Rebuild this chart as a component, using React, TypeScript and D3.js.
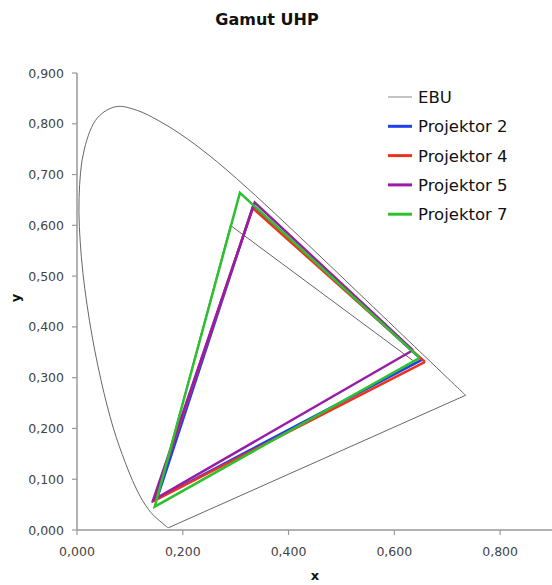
import * as d3 from 'd3'

const W = 552, H = 585
const FONT = '"DejaVu Sans", Verdana, sans-serif'

// CIE 1931 spectral locus (380..700 nm, 5 nm steps)
const locusX = [
  0.1741, 0.1740, 0.1738, 0.1736, 0.1733, 0.1730, 0.1726, 0.1721, 0.1714, 0.1703,
  0.1689, 0.1669, 0.1644, 0.1611, 0.1566, 0.1510, 0.1440, 0.1355, 0.1241, 0.1096,
  0.0913, 0.0687, 0.0454, 0.0235, 0.0082, 0.0039, 0.0139, 0.0389, 0.0743, 0.1142,
  0.1547, 0.1929, 0.2296, 0.2658, 0.3016, 0.3373, 0.3731, 0.4087, 0.4441, 0.4788,
  0.5125, 0.5448, 0.5752, 0.6029, 0.6270, 0.6482, 0.6658, 0.6801, 0.6915, 0.7006,
  0.7079, 0.7140, 0.7190, 0.7230, 0.7260, 0.7283, 0.7300, 0.7311, 0.7320, 0.7327,
  0.7334, 0.7340, 0.7344, 0.7346, 0.7347,
]
const locusY = [
  0.0050, 0.0050, 0.0049, 0.0049, 0.0048, 0.0048, 0.0048, 0.0048, 0.0051, 0.0058,
  0.0069, 0.0086, 0.0109, 0.0138, 0.0177, 0.0227, 0.0297, 0.0399, 0.0578, 0.0868,
  0.1327, 0.2007, 0.2950, 0.4127, 0.5384, 0.6548, 0.7502, 0.8120, 0.8338, 0.8262,
  0.8059, 0.7816, 0.7543, 0.7243, 0.6923, 0.6589, 0.6245, 0.5896, 0.5547, 0.5202,
  0.4866, 0.4544, 0.4242, 0.3965, 0.3725, 0.3514, 0.3340, 0.3197, 0.3083, 0.2993,
  0.2920, 0.2859, 0.2809, 0.2770, 0.2740, 0.2717, 0.2700, 0.2689, 0.2680, 0.2673,
  0.2666, 0.2660, 0.2656, 0.2654, 0.2653,
]

// triangles: red, green, blue primaries
const seriesNames = ['EBU', 'Projektor 2', 'Projektor 4', 'Projektor 5', 'Projektor 7']
const ebuX = [0.64, 0.29, 0.15]
const ebuY = [0.33, 0.60, 0.06]
const p2X = [0.652, 0.333, 0.151]
const p2Y = [0.335, 0.638, 0.061]
const p4X = [0.658, 0.332, 0.145]
const p4Y = [0.331, 0.634, 0.057]
const p5X = [0.635, 0.336, 0.144]
const p5Y = [0.354, 0.645, 0.059]
const p7X = [0.648, 0.308, 0.147]
const p7Y = [0.339, 0.664, 0.046]

const xTicks = [0, 0.2, 0.4, 0.6, 0.8]
const yTicks = [0, 0.1, 0.2, 0.3, 0.4, 0.5, 0.6, 0.7, 0.8, 0.9]

const series = [
  { name: seriesNames[0], xs: ebuX, ys: ebuY, color: '#666', legendColor: '#b0b0b0', width: 1 },
  { name: seriesNames[1], xs: p2X, ys: p2Y, color: '#1f3ff0', legendColor: '#1f3ff0', width: 2.5 },
  { name: seriesNames[2], xs: p4X, ys: p4Y, color: '#f2301e', legendColor: '#f2301e', width: 2.5 },
  { name: seriesNames[3], xs: p5X, ys: p5Y, color: '#9a1ca6', legendColor: '#9a1ca6', width: 2.5 },
  { name: seriesNames[4], xs: p7X, ys: p7Y, color: '#2ec02e', legendColor: '#2ec02e', width: 2.5 },
]

const fmt = (v: number) => v.toFixed(3).replace('.', ',')

export default function App() {
  const x = d3.scaleLinear().domain([0, 0.9]).range([77, 553])
  const y = d3.scaleLinear().domain([0, 0.9]).range([530, 73])
  const line = d3.line<[number, number]>().x(d => x(d[0])).y(d => y(d[1]))
  const smooth = d3.line<[number, number]>().x(d => x(d[0])).y(d => y(d[1])).curve(d3.curveCatmullRom.alpha(0.5))

  const locusPts: [number, number][] = locusX.map((v, i) => [v, locusY[i]])
  const purpleLine: [number, number][] = [locusPts[locusPts.length - 1], locusPts[0]]

  return (
    <svg width={W} height={H} style={{ position: 'absolute', left: 0, top: 0, background: '#fff' }}
      fontFamily={FONT}>
      <text x={267} y={25} textAnchor="middle" fontWeight="bold" fontSize={16} fill="#111">Gamut UHP</text>

      {/* axes */}
      <line x1={x(0)} x2={x(0.9)} y1={y(0)} y2={y(0)} stroke="#999" strokeWidth={1.5} />
      <line x1={x(0)} x2={x(0)} y1={y(0)} y2={y(0.9)} stroke="#999" strokeWidth={1.5} />
      {xTicks.map(t => (
        <g key={'x' + t}>
          <line x1={x(t)} x2={x(t)} y1={y(0)} y2={y(0) + 5} stroke="#999" strokeWidth={1.2} />
          <text x={x(t)} y={y(0) + 26} textAnchor="middle" fontSize={12.5} fill="#444">{fmt(t)}</text>
        </g>
      ))}
      {yTicks.map(t => (
        <g key={'y' + t}>
          <line x1={x(0) - 5} x2={x(0)} y1={y(t)} y2={y(t)} stroke="#999" strokeWidth={1.2} />
          <text x={x(0) - 13} y={y(t) + 4.5} textAnchor="end" fontSize={12.5} fill="#444">{fmt(t)}</text>
        </g>
      ))}
      <text x={315} y={580} textAnchor="middle" fontWeight="bold" fontSize={13} fill="#111">x</text>
      <text transform="translate(20,298) rotate(-90)" textAnchor="middle" fontWeight="bold" fontSize={13} fill="#111">y</text>

      {/* spectral locus + line of purples */}
      <path d={smooth(locusPts) || ''} fill="none" stroke="#666" strokeWidth={1} />
      <path d={line(purpleLine) || ''} fill="none" stroke="#666" strokeWidth={1} />

      {/* gamut triangles */}
      {series.map(s => {
        const pts: [number, number][] = s.xs.map((v, i) => [v, s.ys[i]])
        pts.push(pts[0])
        return <path key={s.name} d={line(pts) || ''} fill="none" stroke={s.color}
          strokeWidth={s.width} strokeLinejoin="miter" />
      })}

      {/* legend */}
      {series.map((s, i) => (
        <g key={'lg' + s.name} transform={`translate(388,${97 + i * 29.3})`}>
          <line x1={0} x2={24} y1={0} y2={0} stroke={s.legendColor} strokeWidth={s.width === 1 ? 1.5 : 3} />
          <text x={30} y={6} fontSize={16.5} fill="#111">{s.name}</text>
        </g>
      ))}
    </svg>
  )
}
